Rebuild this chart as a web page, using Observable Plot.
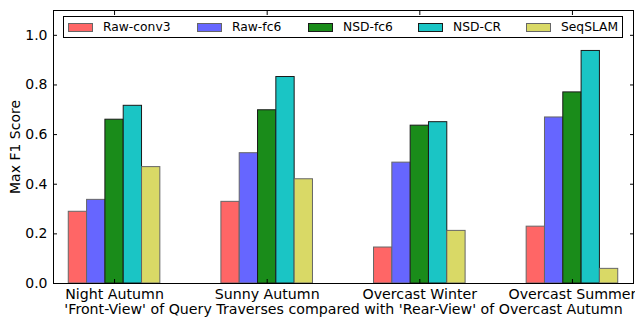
<!DOCTYPE html>
<html>
<head>
<meta charset="utf-8">
<script src="https://cdn.jsdelivr.net/npm/d3@7"></script>
<script src="https://cdn.jsdelivr.net/npm/@observablehq/plot@0.6"></script>
<style>
  html, body { margin: 0; padding: 0; background: #fff; }
  #wrap { position: relative; width: 635px; height: 318px; font-family: "DejaVu Sans", sans-serif; }
  #legend { position: absolute; left: 63px; top: 16px; width: 558px; height: 20px; border: 1px solid #000; background: #fff;
            font-size: 12.3px; color: #000; box-sizing: content-box; }
  .item { display: flex; align-items: center; position: absolute; top: 0; height: 20px; }
  .sw { width: 25px; height: 9px; box-sizing: border-box; margin-right: 10px; }
</style>
</head>
<body>
<div id="wrap"></div>
<script>
const categories = ["Night Autumn", "Sunny Autumn", "Overcast Winter", "Overcast Summer"];
const seriesNames = ["Raw-conv3", "Raw-fc6", "NSD-fc6", "NSD-CR", "SeqSLAM"];
const rawConv3 = [0.289, 0.329, 0.145, 0.229];
const rawFc6   = [0.337, 0.525, 0.487, 0.669];
const nsdFc6   = [0.660, 0.698, 0.636, 0.770];
const nsdCR    = [0.716, 0.832, 0.650, 0.937];
const seqSLAM  = [0.469, 0.420, 0.212, 0.059];
const yTicks = [0, 0.2, 0.4, 0.6, 0.8, 1.0];

const fills   = ["#ff6666", "#6666ff", "#1a8c1a", "#1ac5c5", "#d9d966"];
const strokes = ["#666666", "#666666", "#1a1a1a", "#1a1a1a", "#666666"];
const barW = 0.12;

const allSeries = [rawConv3, rawFc6, nsdFc6, nsdCR, seqSLAM];
const rows = [];
allSeries.forEach((vals, k) => {
  vals.forEach((v, i) => {
    rows.push({series: seriesNames[k], k, i, x1: i + (k - 2.5) * barW, x2: i + (k - 1.5) * barW, value: v});
  });
});

const chart = Plot.plot({
  width: 635,
  height: 318,
  marginLeft: 53,
  marginRight: 2,
  marginTop: 10,
  marginBottom: 35,
  style: {fontFamily: "DejaVu Sans, sans-serif", fontSize: "14px", color: "#000", background: "#fff"},
  x: {type: "linear", domain: [-0.4, 3.4]},
  y: {domain: [0, 1.1]},
  marks: [
    Plot.rectY(rows, {x1: "x1", x2: "x2", y1: 0, y2: "value",
      fill: d => fills[d.k], stroke: d => strokes[d.k], strokeWidth: 1}),
    Plot.axisY({anchor: "left", ticks: yTicks, tickSize: 0, tickPadding: 6, tickFormat: d3.format(".1f"), label: null, fontSize: 14}),
    Plot.axisY({anchor: "left", ticks: yTicks, tickSize: -4, tickFormat: () => "", label: null}),
    Plot.axisY({anchor: "right", ticks: yTicks, tickSize: -4, tickFormat: () => "", label: null}),
    Plot.axisX({anchor: "bottom", ticks: [0, 1, 2, 3], tickSize: 0, tickPadding: 5, tickFormat: i => categories[i],
      label: "'Front-View' of Query Traverses compared with 'Rear-View' of Overcast Autumn", labelAnchor: "center", labelArrow: "none", labelOffset: 30, fontSize: 14.2}),
    Plot.axisX({anchor: "bottom", ticks: [0, 1, 2, 3], tickSize: -4, tickFormat: () => "", label: null}),
    Plot.axisX({anchor: "top", ticks: [0, 1, 2, 3], tickSize: -4, tickFormat: () => "", label: null}),
    Plot.frame({stroke: "#000"})
  ]
});

const wrap = document.getElementById("wrap");
wrap.appendChild(chart);

// y-axis title
const yl = document.createElement("div");
yl.textContent = "Max F1 Score";
yl.style.cssText = "position:absolute;left:15px;top:147px;transform:translate(-50%,-50%) rotate(-90deg);font-size:14px;line-height:1;white-space:nowrap;color:#000;";
wrap.appendChild(yl);

// legend
const legend = document.createElement("div");
legend.id = "legend";
const lefts = [4, 133, 244, 354, 462];
seriesNames.forEach((name, k) => {
  const it = document.createElement("div");
  it.className = "item";
  it.style.left = lefts[k] + "px";
  const sw = document.createElement("div");
  sw.className = "sw";
  sw.style.background = fills[k];
  sw.style.border = "1px solid " + strokes[k];
  const lab = document.createElement("span");
  lab.textContent = name;
  it.appendChild(sw);
  it.appendChild(lab);
  legend.appendChild(it);
});
wrap.appendChild(legend);
</script>
</body>
</html>
